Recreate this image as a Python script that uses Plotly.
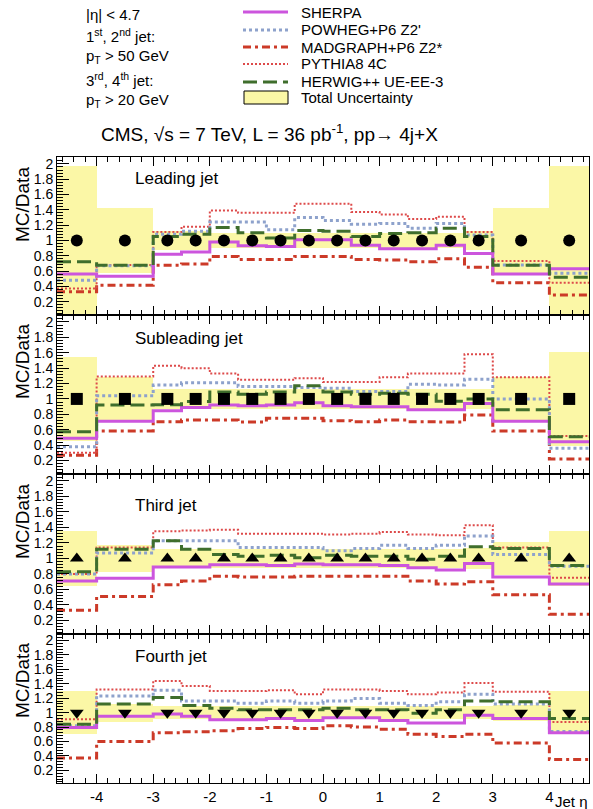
import plotly.graph_objects as go

W, H = 593, 809

# ---------------- data ----------------
eta_edges = [-4.7, -4, -3, -2.5, -2, -1.5, -1, -0.5, 0, 0.5, 1, 1.5, 2, 2.5, 3, 4, 4.7]
x_tick_vals = [-4, -3, -2, -1, 0, 1, 2, 3, 4]
y_tick_vals = [0.2, 0.4, 0.6, 0.8, 1, 1.2, 1.4, 1.6, 1.8, 2]
y_tick_text = ["0.2", "0.4", "0.6", "0.8", "1", "1.2", "1.4", "1.6", "1.8", "2"]

panel_names = ["Leading jet", "Subleading jet", "Third jet", "Fourth jet"]
data_symbols = ["circle", "square", "triangle-up", "triangle-down"]
data_ratio = [1.0] * 16

# Leading jet
sherpa_p1 = [0.56, 0.53, 0.82, 0.85, 0.98, 0.93, 0.92, 1.01, 1.01, 0.935, 0.89, 0.89, 0.935, 0.83, 0.56, 0.63]
powheg_p1 = [0.48, 0.67, 1.08, 1.12, 1.24, 1.24, 1.14, 1.30, 1.26, 1.21, 1.22, 1.16, 1.22, 1.07, 0.68, 0.57]
madgraph_p1 = [0.33, 0.415, 0.675, 0.69, 0.79, 0.75, 0.75, 0.79, 0.79, 0.75, 0.745, 0.72, 0.76, 0.65, 0.445, 0.285]
pythia_p1 = [0.37, 0.68, 1.11, 1.18, 1.39, 1.36, 1.36, 1.48, 1.48, 1.37, 1.34, 1.28, 1.31, 1.11, 0.73, 0.445]
herwig_p1 = [0.72, 0.675, 1.05, 1.08, 1.17, 1.10, 1.03, 1.13, 1.12, 1.05, 1.09, 1.10, 1.16, 1.05, 0.675, 0.52]
band_lo_p1 = [0.03, 0.58, 0.88, 0.88, 0.9, 0.9, 0.9, 0.9, 0.9, 0.9, 0.9, 0.9, 0.9, 0.88, 0.57, 0.03]
band_hi_p1 = [1.97, 1.42, 1.12, 1.12, 1.1, 1.1, 1.1, 1.1, 1.1, 1.1, 1.1, 1.1, 1.1, 1.12, 1.43, 1.97]

# Subleading jet
sherpa_p2 = [0.49, 0.71, 0.845, 0.89, 0.92, 0.91, 0.92, 0.95, 0.91, 0.90, 0.90, 0.86, 0.86, 0.94, 0.71, 0.445]
powheg_p2 = [0.38, 1.04, 1.18, 1.21, 1.21, 1.16, 1.16, 1.15, 1.14, 1.095, 1.095, 1.19, 1.18, 1.255, 1.0, 0.36]
madgraph_p2 = [0.27, 0.585, 0.705, 0.725, 0.725, 0.70, 0.75, 0.75, 0.715, 0.705, 0.725, 0.705, 0.70, 0.79, 0.585, 0.22]
pythia_p2 = [0.30, 1.29, 1.43, 1.40, 1.33, 1.25, 1.25, 1.27, 1.22, 1.22, 1.28, 1.33, 1.33, 1.58, 1.28, 0.52]
herwig_p2 = [0.575, 0.92, 0.925, 0.965, 1.09, 1.06, 1.09, 1.17, 1.09, 1.06, 1.075, 1.06, 0.97, 1.0, 0.86, 0.51]
band_lo_p2 = [0.46, 0.72, 0.87, 0.87, 0.87, 0.87, 0.87, 0.87, 0.87, 0.87, 0.87, 0.87, 0.87, 0.87, 0.72, 0.39]
band_hi_p2 = [1.54, 1.28, 1.13, 1.13, 1.13, 1.13, 1.13, 1.13, 1.13, 1.13, 1.13, 1.13, 1.13, 1.13, 1.28, 1.61]

# Third jet
sherpa_p3 = [0.71, 0.745, 0.89, 0.89, 0.92, 0.92, 0.91, 0.93, 0.92, 0.92, 0.91, 0.88, 0.85, 0.935, 0.76, 0.67]
powheg_p3 = [0.80, 1.07, 1.23, 1.23, 1.23, 1.14, 1.14, 1.14, 1.10, 1.13, 1.17, 1.13, 1.17, 1.29, 1.05, 0.90]
madgraph_p3 = [0.33, 0.51, 0.66, 0.71, 0.77, 0.76, 0.76, 0.77, 0.77, 0.77, 0.77, 0.71, 0.67, 0.70, 0.53, 0.28]
pythia_p3 = [0.80, 1.14, 1.35, 1.36, 1.37, 1.32, 1.32, 1.32, 1.31, 1.32, 1.34, 1.31, 1.30, 1.43, 1.14, 0.75]
herwig_p3 = [0.83, 1.12, 1.23, 1.12, 1.05, 1.03, 1.04, 1.01, 1.04, 1.03, 1.03, 0.99, 1.03, 1.15, 1.13, 0.91]
band_lo_p3 = [0.64, 0.82, 0.88, 0.88, 0.88, 0.88, 0.88, 0.88, 0.88, 0.88, 0.88, 0.88, 0.88, 0.87, 0.79, 0.65]
band_hi_p3 = [1.36, 1.18, 1.12, 1.12, 1.12, 1.12, 1.12, 1.12, 1.12, 1.12, 1.12, 1.12, 1.12, 1.13, 1.21, 1.35]

# Fourth jet
sherpa_p4 = [0.795, 0.95, 0.98, 0.95, 0.90, 0.90, 0.92, 0.89, 0.93, 0.93, 0.89, 0.855, 0.855, 0.965, 0.92, 0.72]
powheg_p4 = [0.82, 1.23, 1.31, 1.16, 1.16, 1.13, 1.16, 1.13, 1.16, 1.195, 1.13, 1.10, 1.15, 1.255, 1.12, 0.74]
madgraph_p4 = [0.37, 0.60, 0.72, 0.735, 0.75, 0.78, 0.795, 0.78, 0.82, 0.80, 0.77, 0.70, 0.67, 0.70, 0.58, 0.35]
pythia_p4 = [0.91, 1.32, 1.44, 1.37, 1.30, 1.30, 1.31, 1.255, 1.32, 1.32, 1.30, 1.255, 1.28, 1.41, 1.29, 0.87]
herwig_p4 = [0.84, 1.12, 1.21, 1.10, 1.06, 1.04, 1.04, 1.04, 1.06, 1.04, 1.04, 0.99, 1.04, 1.16, 1.15, 0.92]
band_lo_p4 = [0.70, 0.87, 0.91, 0.91, 0.91, 0.91, 0.91, 0.91, 0.91, 0.91, 0.91, 0.91, 0.91, 0.91, 0.89, 0.71]
band_hi_p4 = [1.30, 1.12, 1.09, 1.09, 1.09, 1.09, 1.09, 1.09, 1.09, 1.09, 1.09, 1.09, 1.09, 1.09, 1.10, 1.30]

panels = [
    (sherpa_p1, powheg_p1, madgraph_p1, pythia_p1, herwig_p1, band_lo_p1, band_hi_p1),
    (sherpa_p2, powheg_p2, madgraph_p2, pythia_p2, herwig_p2, band_lo_p2, band_hi_p2),
    (sherpa_p3, powheg_p3, madgraph_p3, pythia_p3, herwig_p3, band_lo_p3, band_hi_p3),
    (sherpa_p4, powheg_p4, madgraph_p4, pythia_p4, herwig_p4, band_lo_p4, band_hi_p4),
]

# ---------------- styles ----------------
FONT = "Liberation Sans, Arial, sans-serif"
C_SHERPA = "#cc55dd"
C_POWHEG = "#8ea2cc"
C_MADGRAPH = "#cc3a28"
C_PYTHIA = "#dd4a4a"
C_HERWIG = "#3f6e2c"
C_BAND = "#fbf7a6"

styles = {
    "sherpa": dict(color=C_SHERPA, width=3, dash="solid"),
    "powheg": dict(color=C_POWHEG, width=3, dash="3px,3px"),
    "madgraph": dict(color=C_MADGRAPH, width=3, dash="8px,4px,3px,4px"),
    "pythia": dict(color=C_PYTHIA, width=2, dash="2px,2px"),
    "herwig": dict(color=C_HERWIG, width=3, dash="14px,6px"),
}

def px(x):
    return x / W

def py(y):
    return 1 - y / H

# panel pixel boundaries (top, bottom)
panel_px = [(157, 315), (315, 474), (474, 634), (634, 783)]
x_dom = [px(57), px(589)]
Y_RANGE = [0.025, 2.09]

centers = [(eta_edges[i] + eta_edges[i + 1]) / 2 for i in range(16)]
widths = [eta_edges[i + 1] - eta_edges[i] for i in range(16)]

fig = go.Figure()

for k, (sh, pw, mg, py8, hw, blo, bhi) in enumerate(panels):
    xa = "x" if k == 0 else f"x{k+1}"
    ya = "y" if k == 0 else f"y{k+1}"
    fig.add_trace(go.Bar(
        x=centers, width=widths, base=blo,
        y=[h - l for h, l in zip(bhi, blo)],
        marker=dict(color=C_BAND, line=dict(width=0)),
        xaxis=xa, yaxis=ya, showlegend=False, hoverinfo="skip"))
    for name, vals in [("madgraph", mg), ("pythia", py8), ("powheg", pw), ("sherpa", sh), ("herwig", hw)]:
        fig.add_trace(go.Scatter(
            x=eta_edges, y=list(vals) + [vals[-1]],
            mode="lines", line=dict(shape="hv", **styles[name]),
            xaxis=xa, yaxis=ya, showlegend=False, hoverinfo="skip"))
    fig.add_trace(go.Scatter(
        x=centers, y=data_ratio, mode="markers",
        marker=dict(symbol=data_symbols[k], size=12, color="black"),
        xaxis=xa, yaxis=ya, showlegend=False, hoverinfo="skip"))

layout = dict(
    width=W, height=H, margin=dict(l=0, r=0, t=0, b=0),
    paper_bgcolor="white", plot_bgcolor="white",
    template="none", barmode="overlay", bargap=0,
    font=dict(family=FONT, color="black"),
)

for k in range(4):
    top, bot = panel_px[k]
    xname = "xaxis" if k == 0 else f"xaxis{k+1}"
    yname = "yaxis" if k == 0 else f"yaxis{k+1}"
    yanchor = "y" if k == 0 else f"y{k+1}"
    xanchor = "x" if k == 0 else f"x{k+1}"
    layout[xname] = dict(
        domain=x_dom, anchor=yanchor, range=[-4.7, 4.7],
        tickmode="array", tickvals=x_tick_vals,
        ticktext=[str(v) for v in x_tick_vals],
        showticklabels=(k == 3), ticks="inside", ticklen=9, tickwidth=1,
        tickcolor="black", showline=True, linecolor="black", linewidth=1,
        mirror="allticks", showgrid=False, zeroline=False, automargin=False,
        tickfont=dict(size=15, family=FONT),
        minor=dict(dtick=0.2, ticks="inside", ticklen=5, tickcolor="black", showgrid=False),
    )
    layout[yname] = dict(
        domain=[py(bot), py(top)], anchor=xanchor, range=Y_RANGE,
        tickmode="array", tickvals=y_tick_vals, ticktext=y_tick_text,
        ticks="inside", ticklen=12, tickwidth=1, tickcolor="black",
        showline=True, linecolor="black", linewidth=1, mirror=True,
        showgrid=False, zeroline=False, automargin=False,
        tickfont=dict(size=14, family=FONT),
        minor=dict(dtick=0.04, tick0=0, ticks="inside", ticklen=6, tickcolor="black", showgrid=False),
    )

fig.update_layout(**layout)

annotations = []
shapes = []

# y-axis titles and panel labels
title_centers = [205, 362, 522, 681]
label_y = [178, 338, 505, 656]
for k in range(4):
    annotations.append(dict(x=px(22), y=py(title_centers[k]), xref="paper", yref="paper",
                            text="MC/Data", textangle=-90, showarrow=False,
                            font=dict(size=19, family=FONT), xanchor="center", yanchor="middle"))
    annotations.append(dict(x=px(133), y=py(label_y[k]), xref="paper", yref="paper",
                            text=panel_names[k], showarrow=False,
                            font=dict(size=17, family=FONT), xanchor="left", yanchor="middle"))

annotations.append(dict(x=px(590), y=py(801), xref="paper", yref="paper", text="Jet η",
                        showarrow=False, font=dict(size=15, family=FONT),
                        xanchor="right", yanchor="middle"))

# left info text
info_lines = [
    (14, "|η| < 4.7"),
    (36, "1<sup>st</sup>, 2<sup>nd</sup> jet:"),
    (57, "p<sub>T</sub> > 50 GeV"),
    (80, "3<sup>rd</sup>, 4<sup>th</sup> jet:"),
    (100, "p<sub>T</sub> > 20 GeV"),
]
for yy, txt in info_lines:
    annotations.append(dict(x=px(84), y=py(yy), xref="paper", yref="paper", text=txt,
                            showarrow=False, font=dict(size=15, family=FONT),
                            xanchor="left", yanchor="middle"))

# legend
legend_rows = [
    (12, "SHERPA", "sherpa"),
    (30, "POWHEG+P6 Z2'", "powheg"),
    (47, "MADGRAPH+P6 Z2*", "madgraph"),
    (64, "PYTHIA8 4C", "pythia"),
    (82, "HERWIG++ UE-EE-3", "herwig"),
]
for yy, txt, key in legend_rows:
    st = styles[key]
    shapes.append(dict(type="line", xref="paper", yref="paper",
                       x0=px(243), x1=px(288), y0=py(yy), y1=py(yy),
                       line=dict(color=st["color"], width=st["width"], dash=st["dash"])))
    annotations.append(dict(x=px(299), y=py(yy), xref="paper", yref="paper", text=txt,
                            showarrow=False, font=dict(size=15, family=FONT),
                            xanchor="left", yanchor="middle"))
shapes.append(dict(type="rect", xref="paper", yref="paper",
                   x0=px(244), x1=px(288), y0=py(104), y1=py(91),
                   fillcolor=C_BAND, line=dict(color="black", width=1)))
annotations.append(dict(x=px(299), y=py(97), xref="paper", yref="paper", text="Total Uncertainty",
                        showarrow=False, font=dict(size=15, family=FONT),
                        xanchor="left", yanchor="middle"))

# main title
annotations.append(dict(x=px(269), y=py(133), xref="paper", yref="paper",
                        text="CMS, √s = 7 TeV, L = 36 pb<sup>-1</sup>, pp→ 4j+X",
                        showarrow=False, font=dict(size=19, family=FONT),
                        xanchor="center", yanchor="middle"))

fig.update_layout(annotations=annotations, shapes=shapes)

fig.write_html("out.html")
